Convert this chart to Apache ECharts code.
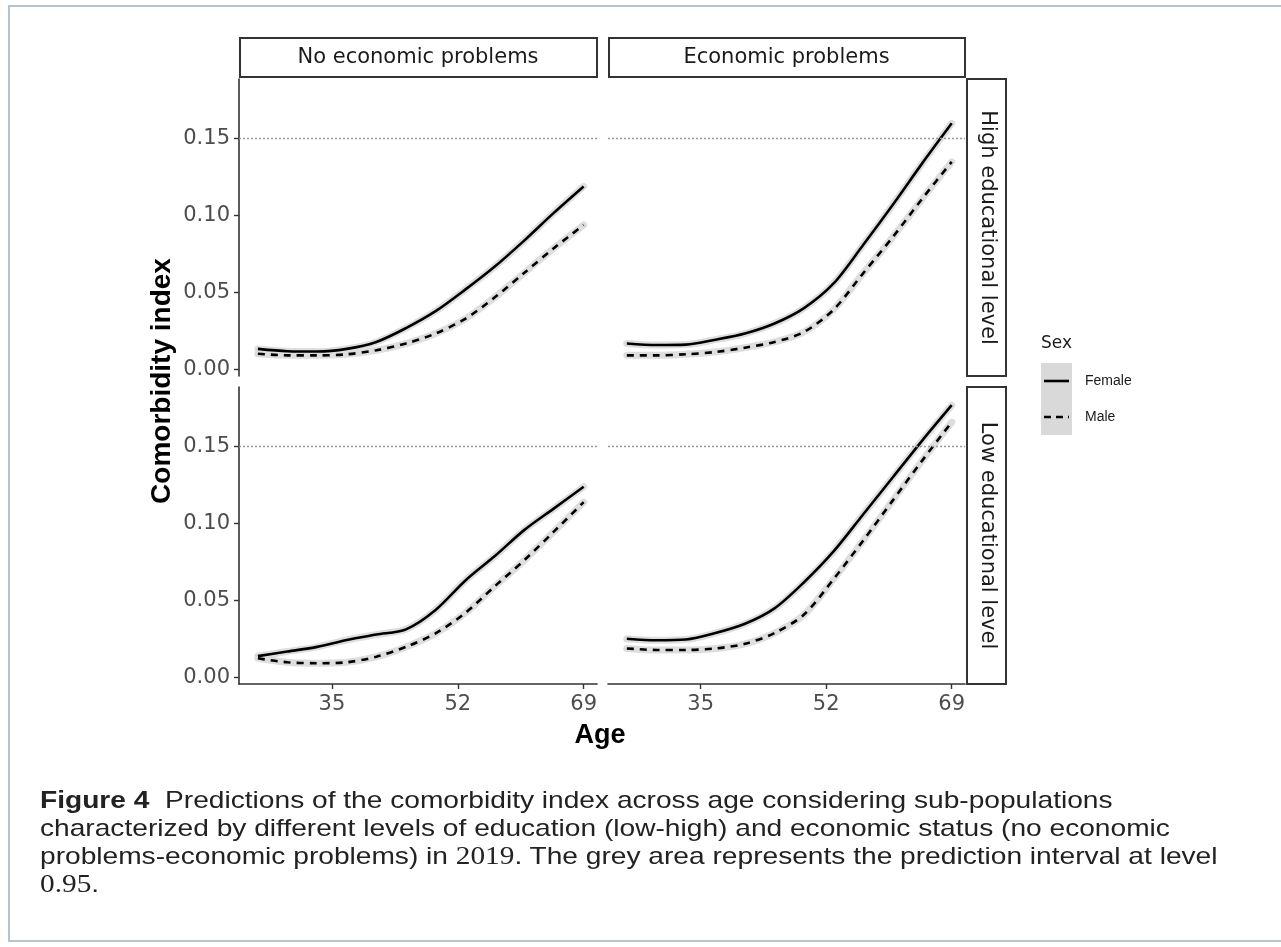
<!DOCTYPE html>
<html>
<head>
<meta charset="utf-8">
<script src="https://cdn.jsdelivr.net/npm/echarts@6/dist/echarts.min.js"></script>
<style>
  html, body { margin: 0; padding: 0; background: #fff; overflow: hidden; }
  .page { position: relative; width: 1281px; height: 947px; overflow: hidden; }
  .frame { position: absolute; left: 8px; top: 5px; width: 1300px; height: 937px; border: 2px solid #b7c4d0; box-sizing: border-box; }
  #chart { position: absolute; left: 0; top: 0; width: 1281px; height: 947px; }
  .caption { position: absolute; left: 40px; top: 786px; font-family: "Liberation Sans", Arial, sans-serif; font-size: 24px; line-height: 28px; color: #222; white-space: nowrap; transform: scaleX(1.172); transform-origin: left top; }
  .caption b { font-weight: bold; }
  .caption .num { font-family: "Liberation Serif", "DejaVu Serif", serif; font-size: 25px; }
</style>
</head>
<body>
<div class="page">
  <div class="frame"></div>
  <div id="chart"></div>
  <div class="caption">
    <div><b>Figure 4</b>&nbsp; Predictions of the comorbidity index across age considering sub-populations</div>
    <div>characterized by different levels of education (low-high) and economic status (no economic</div>
    <div>problems-economic problems) in <span class="num">2019</span>. The grey area represents the prediction interval at level</div>
    <div><span class="num">0.95</span>.</div>
  </div>
</div>
<script>
  // ages on the x axis
  const ages = [25, 29, 33, 37, 41, 45, 49, 53, 57, 61, 65, 69]
  // predicted comorbidity index, one array per panel and sex
  const femHighNoEcon = [0.0135, 0.0120, 0.0118, 0.0135, 0.0180, 0.0270, 0.0380, 0.0520, 0.0670, 0.0840, 0.1020, 0.1190]
  const maleHighNoEcon = [0.0104, 0.0093, 0.0093, 0.0100, 0.0126, 0.0170, 0.0235, 0.0330, 0.0470, 0.0630, 0.0790, 0.0940]
  const femHighEcon = [0.0170, 0.0160, 0.0163, 0.0195, 0.0235, 0.0300, 0.0400, 0.0560, 0.0810, 0.1070, 0.1340, 0.1600]
  const maleHighEcon = [0.0093, 0.0093, 0.0100, 0.0115, 0.0143, 0.0180, 0.0245, 0.0390, 0.0626, 0.0860, 0.1110, 0.1350]
  const femLowNoEcon = [0.0140, 0.0170, 0.0200, 0.0245, 0.0280, 0.0314, 0.0440, 0.0630, 0.0790, 0.0960, 0.1100, 0.1240]
  const maleLowNoEcon = [0.0126, 0.0100, 0.0094, 0.0100, 0.0136, 0.0200, 0.0288, 0.0420, 0.0594, 0.0764, 0.0950, 0.1140]
  const femLowEcon = [0.0253, 0.0243, 0.0248, 0.0290, 0.0350, 0.0450, 0.0620, 0.0820, 0.1060, 0.1300, 0.1540, 0.1770]
  const maleLowEcon = [0.0190, 0.0180, 0.0180, 0.0190, 0.0220, 0.0290, 0.0410, 0.0640, 0.0890, 0.1150, 0.1410, 0.1660]

  const colLabels = ['No economic problems', 'Economic problems']
  const rowLabels = ['High educational level', 'Low educational level']
  const sexLabels = ['Female', 'Male']
  const xTicks = [35, 52, 69]
  const yTicks = [0, 0.05, 0.1, 0.15]
  const refLevel = 0.15

  // panels in reading order: top-left, top-right, bottom-left, bottom-right
  const panels = [
    { row: 0, col: 0, female: femHighNoEcon, male: maleHighNoEcon },
    { row: 0, col: 1, female: femHighEcon, male: maleHighEcon },
    { row: 1, col: 0, female: femLowNoEcon, male: maleLowNoEcon },
    { row: 1, col: 1, female: femLowEcon, male: maleLowEcon }
  ]

  const colX = [239, 608]
  const colW = [358, 357]
  const rowY = [79, 387]
  const rowH = 297
  const axisColor = '#333'
  const labelFont = 'DejaVu Sans'

  let chart = echarts.init(document.getElementById('chart'), null, { renderer: 'canvas' })

  let grids = []
  let xAxes = []
  let yAxes = []
  let series = []

  panels.forEach((p, i) => {
    grids.push({ left: colX[p.col], top: rowY[p.row], width: colW[p.col], height: rowH, containLabel: false })
    let bottomRow = p.row === 1
    let leftCol = p.col === 0
    xAxes.push({
      gridIndex: i,
      type: 'value',
      min: 22.45,
      max: 70.8,
      splitLine: { show: false },
      axisLine: { show: bottomRow, onZero: false, lineStyle: { color: axisColor, width: 1.6 } },
      axisTick: { show: bottomRow, length: 5, customValues: xTicks, lineStyle: { color: axisColor, width: 1.4 } },
      axisLabel: { show: bottomRow, customValues: xTicks, margin: 10, color: '#4d4d4d', fontSize: 21, fontFamily: labelFont }
    })
    yAxes.push({
      gridIndex: i,
      type: 'value',
      min: -0.0041,
      max: 0.1888,
      splitLine: { show: false },
      axisLine: { show: leftCol, onZero: false, lineStyle: { color: axisColor, width: 1.6 } },
      axisTick: { show: leftCol, length: 5, customValues: yTicks, lineStyle: { color: axisColor, width: 1.4 } },
      axisLabel: {
        show: leftCol,
        customValues: yTicks,
        margin: 9,
        color: '#4d4d4d',
        fontSize: 21,
        fontFamily: labelFont,
        formatter: v => v.toFixed(2)
      }
    })
    let fPts = ages.map((a, k) => [a, p.female[k]])
    let mPts = ages.map((a, k) => [a, p.male[k]])
    // grey prediction band drawn as a wide soft line under each curve
    ;[fPts, mPts].forEach(pts => {
      series.push({
        type: 'line', xAxisIndex: i, yAxisIndex: i, data: pts, smooth: 0.3,
        showSymbol: false, silent: true, z: 1,
        lineStyle: { color: '#dedede', width: 7, cap: 'round' }
      })
    })
    series.push({
      name: sexLabels[0], type: 'line', xAxisIndex: i, yAxisIndex: i, data: fPts, smooth: 0.3,
      showSymbol: false, z: 3,
      lineStyle: { color: '#000', width: 2.6 },
      markLine: {
        silent: true, symbol: 'none', label: { show: false },
        lineStyle: { color: '#999', type: [2, 2], width: 1.3 },
        data: [{ yAxis: refLevel }]
      }
    })
    series.push({
      name: sexLabels[1], type: 'line', xAxisIndex: i, yAxisIndex: i, data: mPts, smooth: 0.3,
      showSymbol: false, z: 3,
      lineStyle: { color: '#000', width: 2.6, type: [7, 6] }
    })
  })

  let graphic = []
  // column strips on top
  colLabels.forEach((t, c) => {
    graphic.push({ type: 'rect', shape: { x: colX[c] + 1, y: 38, width: colW[c] - 1, height: 39 },
      style: { fill: '#fff', stroke: '#333', lineWidth: 2 } })
    graphic.push({ type: 'text', x: colX[c] + colW[c] / 2, y: 58,
      style: { text: t, font: '21px "DejaVu Sans"', fill: '#1a1a1a', align: 'center', verticalAlign: 'middle' } })
  })
  // row strips on the right
  rowLabels.forEach((t, r) => {
    graphic.push({ type: 'rect', shape: { x: 967, y: rowY[r], width: 39, height: rowH },
      style: { fill: '#fff', stroke: '#333', lineWidth: 2 } })
    graphic.push({ type: 'text', x: 987, y: rowY[r] + rowH / 2, rotation: -Math.PI / 2,
      style: { text: t, font: '21px "DejaVu Sans"', fill: '#1a1a1a', align: 'center', verticalAlign: 'middle' } })
  })
  // axis titles
  graphic.push({ type: 'text', x: 162, y: 381, rotation: Math.PI / 2,
    style: { text: 'Comorbidity index', font: 'bold 28px "Liberation Sans"', fill: '#000', align: 'center', verticalAlign: 'middle' } })
  graphic.push({ type: 'text', x: 600, y: 736,
    style: { text: 'Age', font: 'bold 27px "Liberation Sans"', fill: '#000', align: 'center', verticalAlign: 'middle' } })
  // legend
  graphic.push({ type: 'text', x: 1041, y: 344,
    style: { text: 'Sex', font: '17px "DejaVu Sans"', fill: '#1a1a1a', align: 'left', verticalAlign: 'middle' } })
  sexLabels.forEach((t, k) => {
    let cy = 381 + k * 36
    graphic.push({ type: 'rect', shape: { x: 1041, y: cy - 18, width: 31, height: 36 }, style: { fill: '#d9d9d9' } })
    graphic.push({ type: 'line', shape: { x1: 1044, y1: cy, x2: 1069, y2: cy },
      style: { stroke: '#000', lineWidth: 2.6, lineDash: k === 0 ? null : [7, 5] } })
    graphic.push({ type: 'text', x: 1085, y: cy,
      style: { text: t, font: '14px "Liberation Sans"', fill: '#1a1a1a', align: 'left', verticalAlign: 'middle' } })
  })

  chart.setOption({
    backgroundColor: 'transparent',
    animation: false,
    grid: grids,
    xAxis: xAxes,
    yAxis: yAxes,
    series: series,
    graphic: graphic
  })
</script>
</body>
</html>
